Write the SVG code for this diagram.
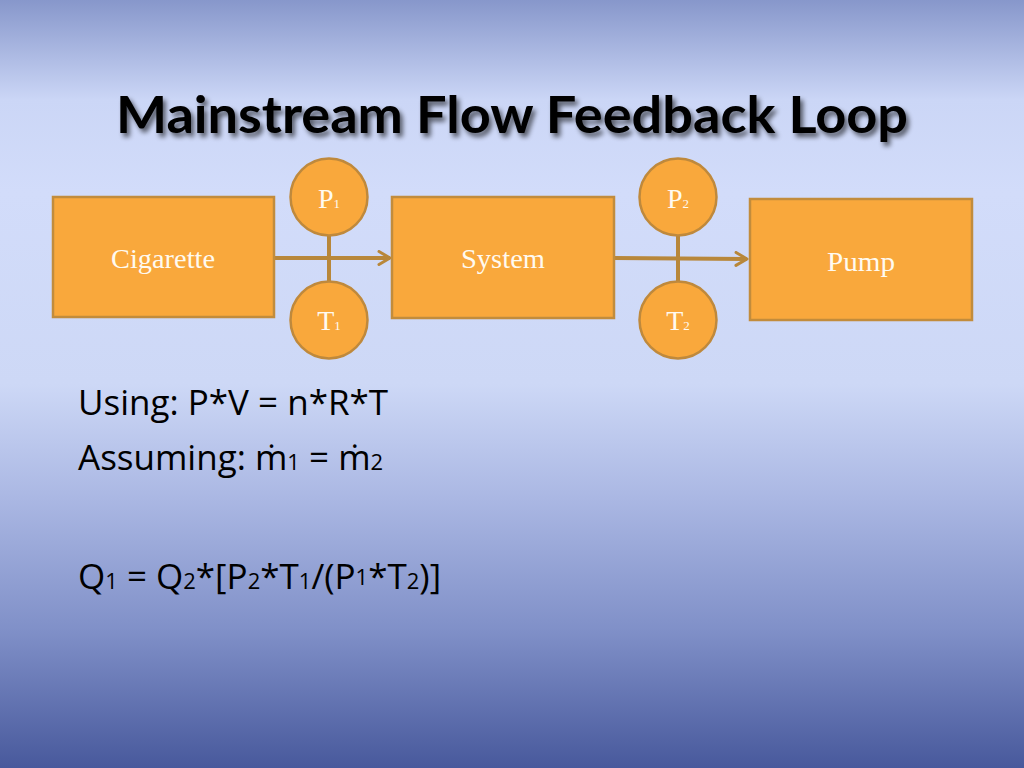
<svg xmlns="http://www.w3.org/2000/svg" width="1024" height="768" viewBox="0 0 1024 768">
<defs>
<linearGradient id="bg" x1="0" y1="0" x2="0" y2="1">
<stop offset="0" stop-color="#8797cb"/>
<stop offset="0.13" stop-color="#cbd6f6"/>
<stop offset="0.25" stop-color="#d2dcfa"/>
<stop offset="0.5" stop-color="#cdd8f6"/>
<stop offset="0.65" stop-color="#aab7e3"/>
<stop offset="0.82" stop-color="#8090c8"/>
<stop offset="1" stop-color="#48599c"/>
</linearGradient>
<filter id="shadow" x="-5%" y="-20%" width="110%" height="150%">
<feGaussianBlur in="SourceAlpha" stdDeviation="2.5"/>
<feOffset dx="3" dy="4" result="b"/>
<feComponentTransfer><feFuncA type="linear" slope="0.6"/></feComponentTransfer>
<feMerge><feMergeNode/><feMergeNode in="SourceGraphic"/></feMerge>
</filter>
<marker id="arr" viewBox="0 0 16 16" refX="13" refY="8" markerWidth="16" markerHeight="16" markerUnits="userSpaceOnUse" orient="auto">
<path d="M2,1.5 L13,8 L2,14.5" fill="none" stroke="#b8873a" stroke-width="3" stroke-linecap="round" stroke-linejoin="round"/>
</marker>
</defs>
<style>
.box{fill:#f9a83c;stroke:#c28c3c;stroke-width:2.5}
.circ{fill:#f9a83c;stroke:#bf893c;stroke-width:2.5}
.lbl{font-family:"Liberation Serif","DejaVu Serif",serif;fill:#fffaf0;font-size:27px;text-anchor:middle}
.clbl{font-family:"Liberation Serif","DejaVu Serif",serif;fill:#fffaf0;font-size:28px;text-anchor:middle}
.sub{font-size:13px}
.conn{stroke:#b8873a;stroke-width:4;fill:none}
.body{font-family:"Open Sans","Liberation Sans",sans-serif;font-size:35px;fill:#000}
.bsub{font-size:22px}
</style>
<rect x="0" y="0" width="1024" height="768" fill="url(#bg)"/>
<g id="title" filter="url(#shadow)">
<text x="512" y="133" text-anchor="middle" font-family="Lato,'Liberation Sans',sans-serif" font-weight="bold" font-size="52" textLength="792" lengthAdjust="spacingAndGlyphs" fill="#000">Mainstream Flow Feedback Loop</text>
</g>
<g id="connectors">
<line class="conn" x1="274" y1="258" x2="390" y2="258" marker-end="url(#arr)"/>
<line class="conn" x1="614" y1="258" x2="747" y2="259" marker-end="url(#arr)"/>
<line class="conn" x1="329" y1="235" x2="329" y2="282"/>
<line class="conn" x1="678" y1="235" x2="678" y2="282"/>
</g>
<g id="cigarette">
<rect class="box" x="53" y="197" width="221" height="120"/>
<text class="lbl" x="163" y="268" textLength="104" lengthAdjust="spacingAndGlyphs">Cigarette</text>
</g>
<g id="system">
<rect class="box" x="392" y="197" width="222" height="121"/>
<text class="lbl" x="503" y="268" textLength="84" lengthAdjust="spacingAndGlyphs">System</text>
</g>
<g id="pump">
<rect class="box" x="750" y="199" width="222" height="121"/>
<text class="lbl" x="861" y="271" textLength="68" lengthAdjust="spacingAndGlyphs">Pump</text>
</g>
<g id="p1">
<circle class="circ" cx="329" cy="197" r="38.5"/>
<text class="clbl" x="329" y="208">P<tspan class="sub">1</tspan></text>
</g>
<g id="t1">
<circle class="circ" cx="329" cy="320" r="38.5"/>
<text class="clbl" x="329" y="330">T<tspan class="sub">1</tspan></text>
</g>
<g id="p2">
<circle class="circ" cx="678" cy="197" r="38.5"/>
<text class="clbl" x="678" y="208">P<tspan class="sub">2</tspan></text>
</g>
<g id="t2">
<circle class="circ" cx="678" cy="320" r="38.5"/>
<text class="clbl" x="678" y="330">T<tspan class="sub">2</tspan></text>
</g>
<g id="equations">
<text class="body" x="78" y="415">Using: P*V = n*R*T</text>
<text class="body" x="78" y="470">Assuming: ṁ<tspan class="bsub">1</tspan> = ṁ<tspan class="bsub">2</tspan></text>
<text class="body" x="78" y="589">Q<tspan class="bsub">1</tspan> = Q<tspan class="bsub">2</tspan>*[P<tspan class="bsub">2</tspan>*T<tspan class="bsub">1</tspan>/(P<tspan class="bsub" dy="-4">1</tspan><tspan dy="4">*T</tspan><tspan class="bsub">2</tspan>)]</text>
</g>
</svg>
